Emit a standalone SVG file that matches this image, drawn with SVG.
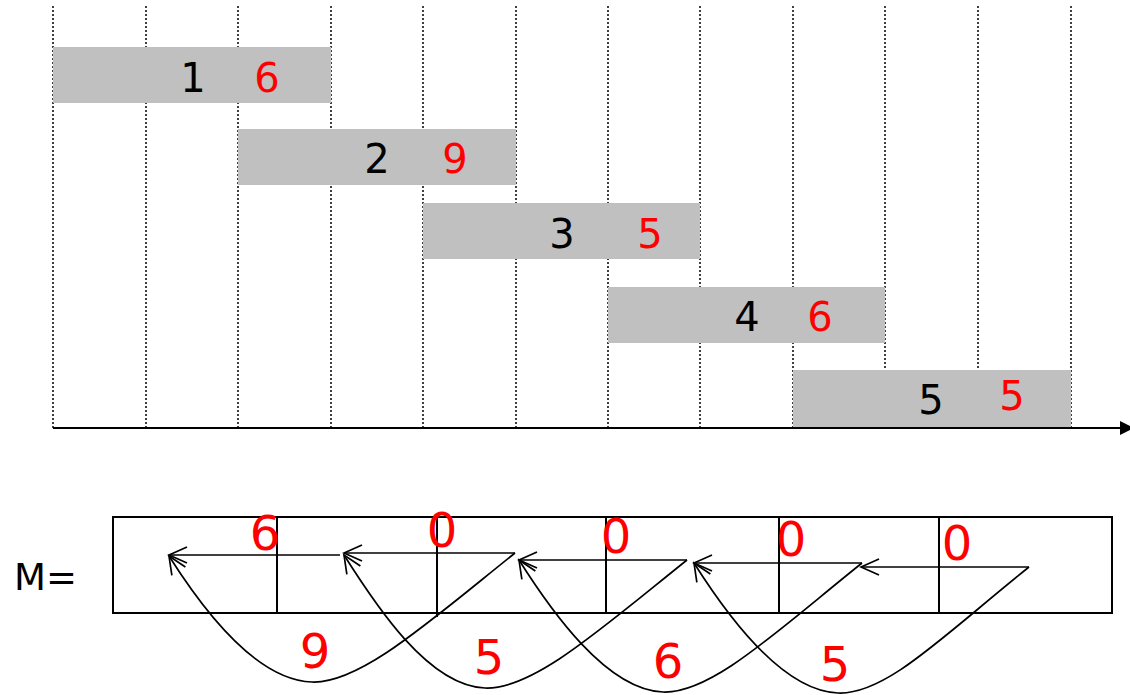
<svg xmlns="http://www.w3.org/2000/svg" width="1130" height="695" viewBox="0 0 1130 695">
<style>
.grid{stroke:#000;stroke-width:1.5;stroke-dasharray:2,2}
.bar{fill:#C0C0C0}
.t{font-family:"DejaVu Sans",sans-serif;font-size:40px;text-anchor:middle}
.k{fill:#000}
.r{fill:#FF0000}
.m{font-family:"DejaVu Sans",sans-serif;font-size:48px;text-anchor:middle;fill:#FF0000}
.ln{stroke:#000;stroke-width:1.7;fill:none}
.cell{stroke:#000;stroke-width:2;fill:none}
</style>
<defs>
<marker id="open" viewBox="-22 -11 24 22" refX="0" refY="0" markerWidth="24" markerHeight="22" markerUnits="userSpaceOnUse" orient="auto">
<path d="M-18,-8 L0,0 L-18,8" fill="none" stroke="#000" stroke-width="1.7"/>
</marker>
</defs>
<g id="grid">
<line class="grid" x1="53" y1="6" x2="53" y2="428"/>
<line class="grid" x1="146" y1="6" x2="146" y2="428"/>
<line class="grid" x1="238" y1="6" x2="238" y2="428"/>
<line class="grid" x1="331" y1="6" x2="331" y2="428"/>
<line class="grid" x1="423" y1="6" x2="423" y2="428"/>
<line class="grid" x1="516" y1="6" x2="516" y2="428"/>
<line class="grid" x1="608" y1="6" x2="608" y2="428"/>
<line class="grid" x1="700" y1="6" x2="700" y2="428"/>
<line class="grid" x1="793" y1="6" x2="793" y2="428"/>
<line class="grid" x1="885" y1="6" x2="885" y2="428"/>
<line class="grid" x1="978" y1="6" x2="978" y2="428"/>
<line class="grid" x1="1071" y1="6" x2="1071" y2="428"/>
</g>
<g id="bar1"><rect class="bar" x="53" y="47" width="278" height="56"/><text class="t k" x="193" y="92">1</text><text class="t r" x="267" y="92">6</text></g>
<g id="bar2"><rect class="bar" x="238" y="129" width="278" height="56"/><text class="t k" x="377" y="173">2</text><text class="t r" x="455" y="173">9</text></g>
<g id="bar3"><rect class="bar" x="423" y="203" width="277" height="56"/><text class="t k" x="562" y="248">3</text><text class="t r" x="650" y="248">5</text></g>
<g id="bar4"><rect class="bar" x="608" y="287" width="277" height="56"/><text class="t k" x="747" y="331">4</text><text class="t r" x="820" y="331">6</text></g>
<g id="bar5"><rect class="bar" x="793" y="370" width="278" height="57"/><text class="t k" x="931" y="414">5</text><text class="t r" x="1012" y="410">5</text></g>
<g id="axis">
<line x1="53" y1="428" x2="1122" y2="428" stroke="#000" stroke-width="2"/>
<polygon points="1120,421 1134,428 1120,435" fill="#000"/>
</g>
<g id="label-M"><text x="14" y="590" style="font-family:'DejaVu Sans',sans-serif;font-size:37px;fill:#000">M=</text></g>
<g id="array">
<rect class="cell" x="113" y="517" width="999" height="96"/>
<line class="cell" x1="277" y1="517" x2="277" y2="613"/>
<line class="cell" x1="437" y1="517" x2="437" y2="617"/>
<line class="cell" x1="606" y1="517" x2="606" y2="613"/>
<line class="cell" x1="779" y1="517" x2="779" y2="613"/>
<line class="cell" x1="939" y1="517" x2="939" y2="613"/>
<text class="m" x="265" y="550">6</text>
<text class="m" x="442" y="547">0</text>
<text class="m" x="616" y="553">0</text>
<text class="m" x="791" y="556">0</text>
<text class="m" x="957" y="560">0</text>
</g>
<g id="connectors">
<line class="ln" x1="340" y1="555" x2="169" y2="555" marker-end="url(#open)"/>
<line class="ln" x1="515" y1="553" x2="344" y2="553" marker-end="url(#open)"/>
<line class="ln" x1="687" y1="560" x2="519" y2="560" marker-end="url(#open)"/>
<line class="ln" x1="862" y1="563" x2="694" y2="563" marker-end="url(#open)"/>
<line class="ln" x1="1029" y1="567" x2="861" y2="567" marker-end="url(#open)"/>
<path class="ln" d="M515,553 C430,621 360,684 312,682 C255,680 200,605 169,556" marker-end="url(#open)"/>
<path class="ln" d="M687,560 C602,628 533,690 485,688 C428,686 375,604 344,555" marker-end="url(#open)"/>
<path class="ln" d="M862,563 C777,631 711,694 663,692 C606,690 550,609 519,560" marker-end="url(#open)"/>
<path class="ln" d="M1029,567 C944,635 886,695 838,693 C781,691 725,612 694,563" marker-end="url(#open)"/>
<text class="m" x="315" y="668">9</text>
<text class="m" x="489" y="674">5</text>
<text class="m" x="668" y="678">6</text>
<text class="m" x="835" y="681">5</text>
</g>
</svg>
